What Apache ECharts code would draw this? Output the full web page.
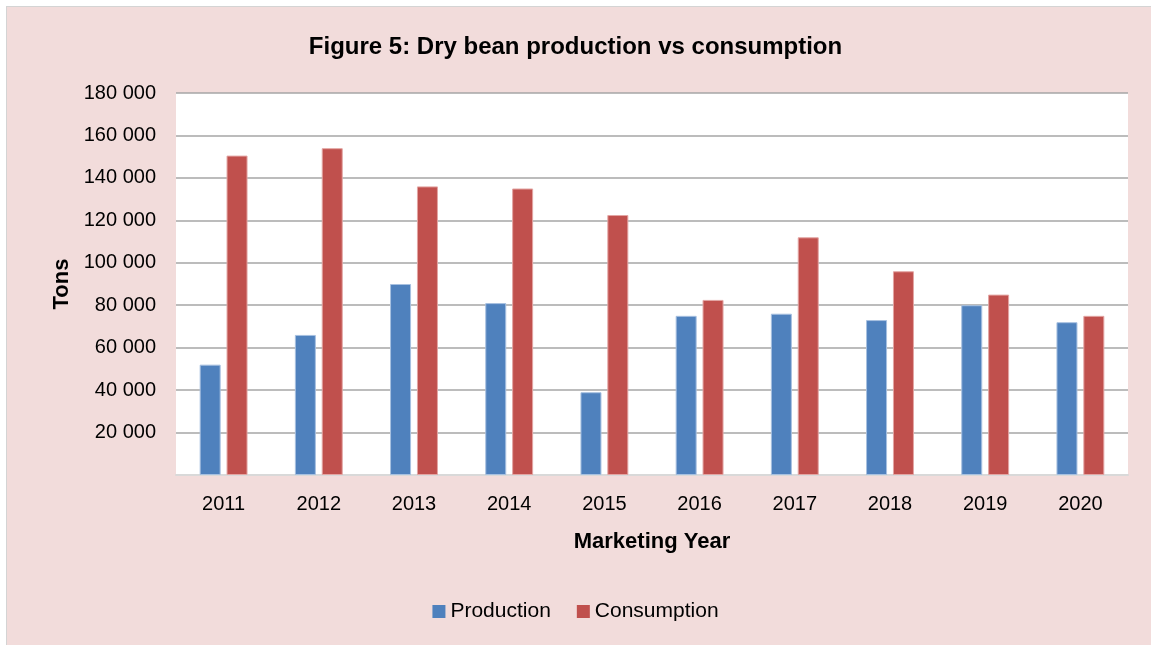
<!DOCTYPE html>
<html>
<head>
<meta charset="utf-8">
<script src="https://cdn.jsdelivr.net/npm/echarts@6/dist/echarts.min.js"></script>
<style>
  html, body { margin: 0; padding: 0; background: #ffffff; }
  #frame { position: absolute; left: 6px; top: 6px; width: 1145px; height: 639px;
           background: #F2DCDB; border-left: 1.5px solid #d4d4d4; border-top: 1.5px solid #d4d4d4; box-sizing: border-box; }
  #chart { position: absolute; left: 0; top: 0; width: 1151px; height: 645px; }
</style>
</head>
<body>
<div id="frame"></div>
<div id="chart"></div>
<script>
const years = ['2011', '2012', '2013', '2014', '2015', '2016', '2017', '2018', '2019', '2020'];
const production = [52000, 66000, 90000, 81000, 39000, 75000, 76000, 73000, 80000, 72000];
const consumption = [150500, 154000, 136000, 135000, 122500, 82500, 112000, 96000, 85000, 75000];
const titleText = 'Figure 5: Dry bean production vs consumption';

const FONT = '"Liberation Sans", Arial, sans-serif';

function fmt(v) {
  if (v === 0) return '';
  return String(v).replace(/\B(?=(\d{3})+(?!\d))/g, ' ');
}

const chart = echarts.init(document.getElementById('chart'));
chart.setOption({
  backgroundColor: 'transparent',
  animation: false,
  title: {
    text: titleText,
    left: 'center',
    top: 30,
    textStyle: { fontFamily: FONT, fontWeight: 'bold', fontSize: 24, color: '#000' }
  },
  legend: {
    data: ['Production', 'Consumption'],
    left: 'center',
    top: 596,
    itemWidth: 13,
    itemHeight: 13,
    itemGap: 26,
    icon: 'rect',
    itemStyle: { borderWidth: 0 },
    textStyle: { fontFamily: FONT, fontSize: 21, color: '#000' }
  },
  grid: {
    left: 176, right: 23, top: 93, bottom: 170,
    show: true, backgroundColor: '#ffffff', borderWidth: 0
  },
  xAxis: {
    type: 'category',
    data: years,
    name: 'Marketing Year',
    nameLocation: 'middle',
    nameGap: 56,
    nameTextStyle: { fontFamily: FONT, fontWeight: 'bold', fontSize: 22, color: '#000' },
    axisLine: { lineStyle: { color: '#d9d9d9', width: 2 } },
    axisTick: { show: false },
    axisLabel: { fontFamily: FONT, fontSize: 20, color: '#000', margin: 19 }
  },
  yAxis: {
    type: 'value',
    min: 0, max: 180000, interval: 20000,
    name: 'Tons',
    nameLocation: 'middle',
    nameGap: 95,
    nameRotate: 90,
    nameTextStyle: { fontFamily: FONT, fontWeight: 'bold', fontSize: 22, color: '#000' },
    axisLine: { show: false },
    axisTick: { show: false },
    axisLabel: { fontFamily: FONT, fontSize: 20, color: '#000', margin: 20, formatter: fmt },
    splitLine: { lineStyle: { color: '#a6a6a6', width: 1.5 } }
  },
  series: [
    {
      name: 'Production', type: 'bar', data: production,
      barWidth: 21, barGap: '28%',
      itemStyle: { color: '#4F81BD', borderColor: '#a7c0e0', borderWidth: 1 }
    },
    {
      name: 'Consumption', type: 'bar', data: consumption,
      barWidth: 21,
      itemStyle: { color: '#C0504D', borderColor: '#e3a5a3', borderWidth: 1 }
    }
  ]
});
</script>
</body>
</html>
